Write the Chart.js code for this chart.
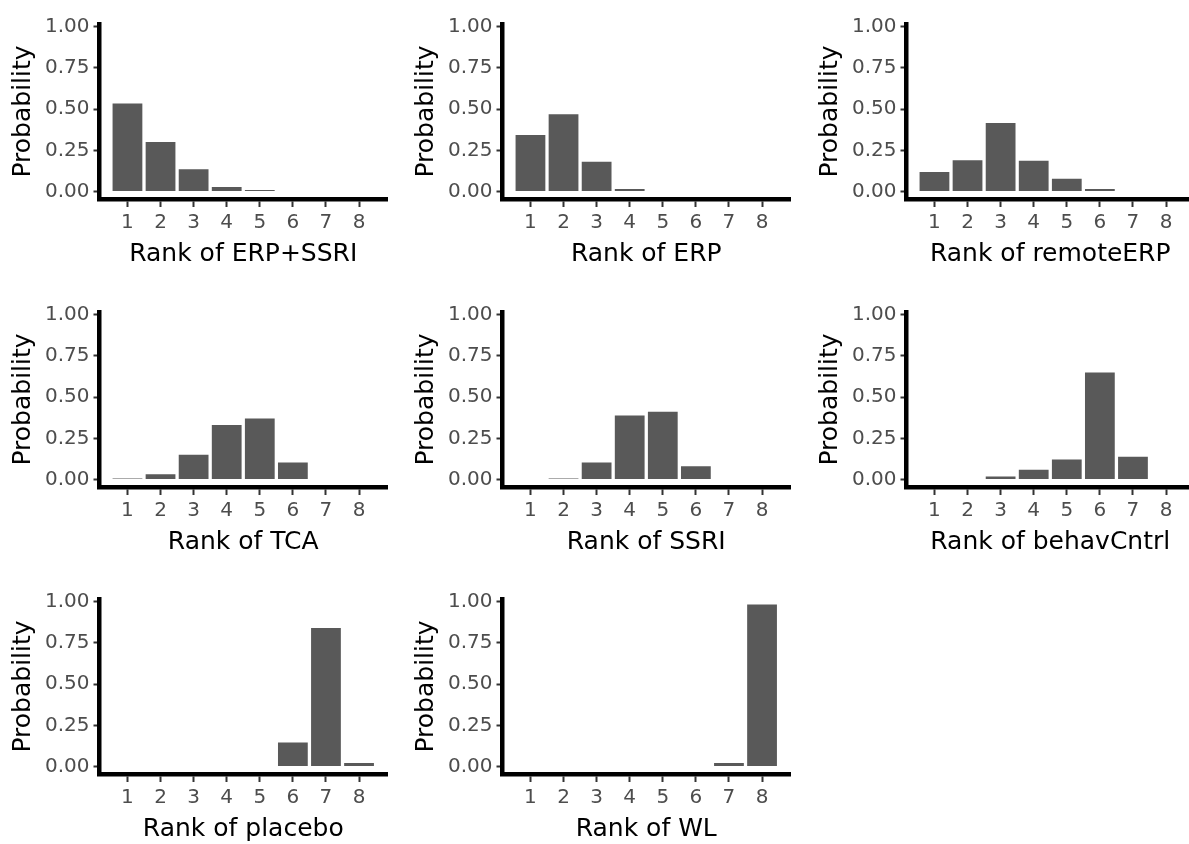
<!DOCTYPE html>
<html>
<head>
<meta charset="utf-8">
<script src="https://cdn.jsdelivr.net/npm/chart.js@4"></script>
<style>
  html, body { margin: 0; padding: 0; background: #fff; width: 1189px; height: 844px; overflow: hidden; }
  canvas { position: absolute; }
</style>
</head>
<body>
<script>
// data
const ranks = [1, 2, 3, 4, 5, 6, 7, 8];
const treatments = ['ERP+SSRI', 'ERP', 'remoteERP', 'TCA', 'SSRI', 'behavCntrl', 'placebo', 'WL'];
const probErpSsri   = [0.533, 0.300, 0.135, 0.027, 0.010, 0, 0, 0];
const probErp       = [0.343, 0.468, 0.180, 0.015, 0, 0, 0, 0];
const probRemoteErp = [0.118, 0.190, 0.415, 0.186, 0.078, 0.015, 0, 0];
const probTca       = [0.007, 0.032, 0.150, 0.330, 0.370, 0.104, 0, 0];
const probSsri      = [0, 0.007, 0.104, 0.388, 0.411, 0.081, 0, 0];
const probBehav     = [0.003, 0.003, 0.019, 0.059, 0.121, 0.649, 0.138, 0.003];
const probPlacebo   = [0, 0, 0, 0, 0.003, 0.146, 0.839, 0.021];
const probWl        = [0, 0, 0, 0, 0, 0, 0.021, 0.981];
const yTicks = [0, 0.25, 0.5, 0.75, 1];

const allProbs = [probErpSsri, probErp, probRemoteErp, probTca, probSsri, probBehav, probPlacebo, probWl];

// layout of the 3x3 grid (plot area corners)
const colLeft = [99.7, 502.6, 906.0];
const rowTop = [13.4, 300.7, 588.1];
const plotW = 287.6, plotH = 186.3;
const yAxisW = 91.5, xAxisH = 70, padTop = 5, padRight = 5;
const family = '"DejaVu Sans", "Liberation Sans", Arial, sans-serif';

function makePanel(i) {
  const col = i % 3, row = Math.floor(i / 3);
  const canvas = document.createElement('canvas');
  canvas.width = Math.round(yAxisW + plotW + padRight);
  canvas.height = Math.round(padTop + plotH + xAxisH);
  canvas.style.left = (colLeft[col] - yAxisW) + 'px';
  canvas.style.top = (rowTop[row] - padTop) + 'px';
  document.body.appendChild(canvas);

  new Chart(canvas, {
    type: 'bar',
    data: {
      datasets: [{
        data: ranks.map((r, k) => ({ x: r, y: allProbs[i][k] })),
        backgroundColor: '#595959',
        borderWidth: 0,
        barPercentage: 0.9,
        categoryPercentage: 1
      }]
    },
    options: {
      responsive: false,
      animation: false,
      devicePixelRatio: 1,
      layout: { padding: { top: padTop, right: padRight, left: 0, bottom: 0 } },
      plugins: { legend: { display: false }, tooltip: { enabled: false } },
      scales: {
        x: {
          type: 'linear',
          min: 0.155,
          max: 8.845,
          offset: false,
          afterBuildTicks: s => { s.ticks = ranks.map(v => ({ value: v })); },
          afterFit: s => { s.height = xAxisH; },
          grid: { display: true, offset: false, drawOnChartArea: false, drawTicks: true, tickLength: 8, tickWidth: 2, tickColor: '#333333' },
          border: { display: true, color: '#000000', width: 4.5 },
          ticks: { autoSkip: false, maxRotation: 0, padding: 4, color: '#4d4d4d', font: { family, size: 20 }, callback: v => String(v) },
          title: { display: true, text: 'Rank of ' + treatments[i], color: '#000000', font: { family, size: 25 }, padding: 0 }
        },
        y: {
          min: -0.045,
          max: 1.015,
          afterBuildTicks: s => { s.ticks = yTicks.map(v => ({ value: v })); },
          afterFit: s => { s.width = yAxisW; },
          grid: { display: true, drawOnChartArea: false, drawTicks: true, tickLength: 6, tickWidth: 2, tickColor: '#333333' },
          border: { display: true, color: '#000000', width: 4.5 },
          ticks: { padding: 4, color: '#4d4d4d', font: { family, size: 20 }, callback: v => v.toFixed(2) },
          title: { display: true, text: 'Probability', color: '#000000', font: { family, size: 25 }, padding: 0 }
        }
      }
    }
  });
}

treatments.forEach((t, i) => makePanel(i));
</script>
</body>
</html>
